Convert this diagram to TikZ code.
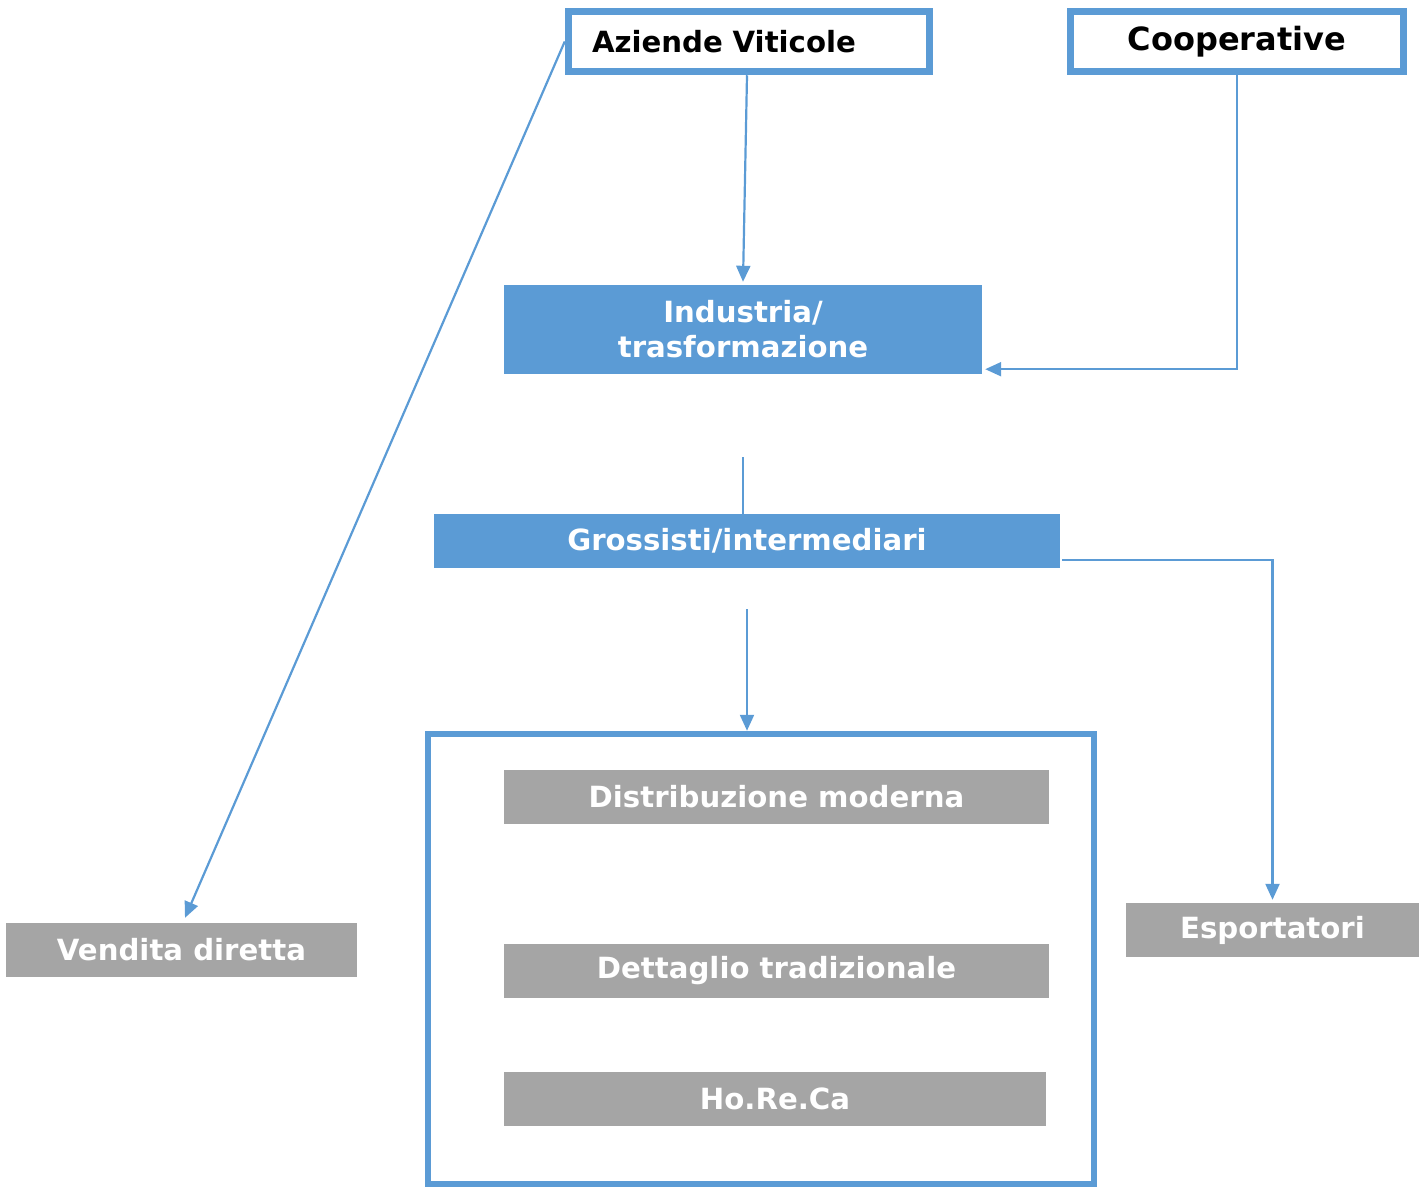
\documentclass[tikz,border=0pt]{standalone}
\usepackage{fontspec}
\setmainfont{DejaVu Sans}
\usetikzlibrary{arrows.meta}
\definecolor{bluBox}{HTML}{5B9BD5}
\definecolor{grigioBox}{HTML}{A5A5A5}
\tikzset{
    testo/.style={font=\bfseries\fontsize{29.2}{35}\selectfont},
    cornice/.style={testo,draw=bluBox,line width=7.5pt,fill=white,text=black,inner sep=0pt},
    pieno/.style={testo,fill=bluBox,text=white,inner sep=0pt,align=center},
    grigio/.style={testo,fill=grigioBox,text=white,inner sep=0pt,minimum height=54pt},
    freccia/.style={draw=bluBox,line width=2.2pt,-{Triangle[length=16pt,width=14pt]}},
}
\begin{document}
\begin{tikzpicture}[x=1pt,y=-1pt]
            \useasboundingbox (0,0) rectangle (1419,1189);

            \node[cornice,text width=314pt,inner xsep=23.5pt,minimum height=60pt,align=left] (aziende) at (749,41.5) {Aziende Viticole};
            \node[cornice,minimum width=333pt,minimum height=60pt,font=\bfseries\fontsize{32}{38}\selectfont] (coop) at (1237,41.5) {Cooperative};

            \node[pieno,minimum width=478pt,minimum height=89pt] (industria) at (743,329.5) {Industria/\\trasformazione};
            \node[pieno,minimum width=626pt,minimum height=54pt] (grossisti) at (747,541) {Grossisti/intermediari};

            \node[draw=bluBox,line width=6.5pt,minimum width=666pt,minimum height=450pt,inner sep=0pt] (canali) at (761,959) {};
            \node[grigio,minimum width=545pt] (moderna) at (776.5,797) {Distribuzione moderna};
            \node[grigio,minimum width=545pt] (dettaglio) at (776.5,971) {Dettaglio tradizionale};
            \node[grigio,minimum width=542pt] (horeca) at (775,1099) {Ho.Re.Ca};

            \node[grigio,minimum width=351pt] (vendita) at (181.5,950) {Vendita diretta};
            \node[grigio,minimum width=293pt] (esport) at (1272.5,930) {Esportatori};

            \coordinate (tratto) at (743,457);
            \coordinate (partenza) at (747,609);

            \draw[freccia] ([xshift=-2pt]aziende.south) -- ([yshift=3pt]industria.north);
            \draw[freccia] (coop.south) |- ([shift={(3pt,5pt)}]industria.south east);
            \draw[draw=bluBox,line width=1.3pt] (tratto) -- (tratto |- grossisti.north);
            \draw[freccia] (partenza) -- (partenza |- canali.north);
            \draw[freccia] ([shift={(2pt,-19pt)}]grossisti.east) -| ([yshift=3pt]esport.north);
            \draw[freccia] (aziende.west) -- ([shift={(3.5pt,5pt)}]vendita.north);
        \end{tikzpicture}
\end{document}
